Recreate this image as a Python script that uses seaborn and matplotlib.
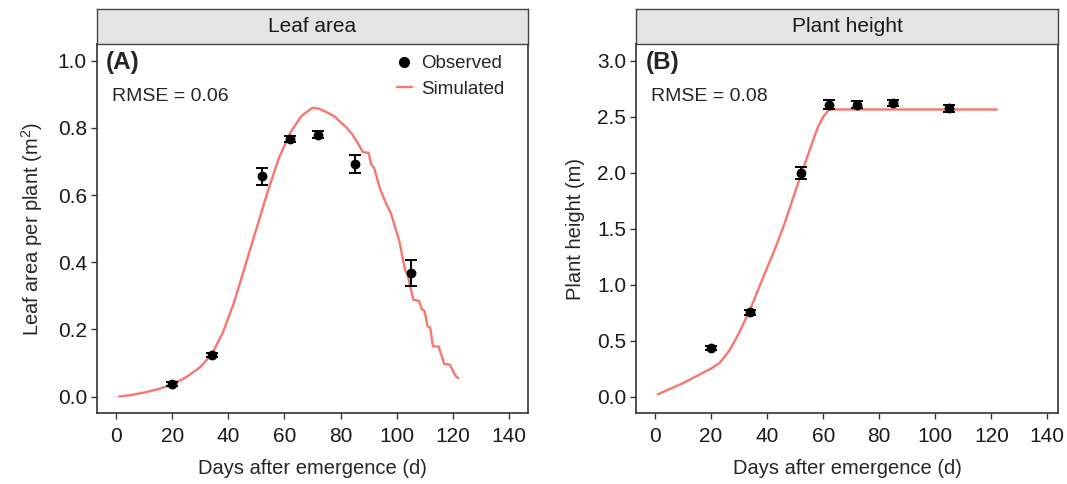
import numpy as np
import pandas as pd
import matplotlib
matplotlib.use("Agg")
import matplotlib.pyplot as plt
from matplotlib.lines import Line2D
import seaborn as sns

# ---------------- data ----------------
sim_leaf_days = [1, 5, 10, 15, 20, 25, 30, 34, 38, 42, 46, 50, 54, 58, 62, 66, 70, 72,
                 74, 76, 78, 80, 82, 84, 86, 88, 90, 91, 92, 94, 96, 98, 100, 101, 103,
                 104, 106, 108, 109, 110, 111, 112, 113, 115, 117, 119, 121, 122]
sim_leaf_vals = [0.000, 0.004, 0.012, 0.022, 0.036, 0.058, 0.088, 0.125, 0.19, 0.28, 0.39,
                 0.50, 0.61, 0.71, 0.785, 0.835, 0.860, 0.858, 0.851, 0.843, 0.833, 0.817,
                 0.802, 0.783, 0.757, 0.728, 0.726, 0.690, 0.681, 0.621, 0.58, 0.545, 0.49,
                 0.462, 0.378, 0.36, 0.288, 0.285, 0.26, 0.255, 0.21, 0.205, 0.149, 0.149,
                 0.097, 0.095, 0.062, 0.055]

sim_height_days = [1, 10, 20, 23, 25, 27, 30, 34, 38, 42, 46, 50, 54, 58, 60, 62, 63, 122]
sim_height_vals = [0.02, 0.12, 0.25, 0.30, 0.36, 0.43, 0.57, 0.78, 1.03, 1.27, 1.53, 1.83,
                   2.12, 2.40, 2.50, 2.56, 2.565, 2.565]

obs_days = [20, 34, 52, 62, 72, 85, 105]
obs_leaf = [0.037, 0.125, 0.656, 0.768, 0.780, 0.693, 0.368]
obs_leaf_err = [0.005, 0.006, 0.025, 0.009, 0.010, 0.026, 0.039]
obs_height = [0.433, 0.751, 1.998, 2.609, 2.609, 2.624, 2.576]
obs_height_err = [0.02, 0.02, 0.05, 0.04, 0.03, 0.03, 0.03]

x_ticks = [0, 20, 40, 60, 80, 100, 120, 140]
leaf_yticks = [0.0, 0.2, 0.4, 0.6, 0.8, 1.0]
height_yticks = [0.0, 0.5, 1.0, 1.5, 2.0, 2.5, 3.0]

# ---------------- style ----------------
sns.set_style("ticks")
plt.rcParams['font.family'] = ['Liberation Sans', 'DejaVu Sans']
plt.rcParams['mathtext.default'] = 'regular'

SIM_COLOR = "#F8766D"
W, H = 1067, 484
fig = plt.figure(figsize=(W / 100, H / 100), dpi=100)


def px_axes(x0, x1, y0, y1):
    return [x0 / W, 1 - y1 / H, (x1 - x0) / W, (y1 - y0) / H]


panels = [
    dict(x0=96.7, x1=528.3, title="Leaf area", tag="(A)", rmse="RMSE = 0.06",
         sd=sim_leaf_days, sv=sim_leaf_vals, ov=obs_leaf, oe=obs_leaf_err,
         yticks=leaf_yticks, ylim=(-0.05, 1.05), xlim=(-7, 147),
         ylabel="Leaf area per plant (m$^{2}$)", fmt="%.1f", legend=True),
    dict(x0=636.0, x1=1058.3, title="Plant height", tag="(B)", rmse="RMSE = 0.08",
         sd=sim_height_days, sv=sim_height_vals, ov=obs_height, oe=obs_height_err,
         yticks=height_yticks, ylim=(-0.15, 3.15), xlim=(-6.8, 143.9),
         ylabel="Plant height (m)", fmt="%.1f", legend=False),
]

for p in panels:
    ax = fig.add_axes(px_axes(p["x0"], p["x1"], 44, 413.3))
    sim_df = pd.DataFrame({"day": p["sd"], "val": p["sv"]})
    sns.lineplot(data=sim_df, x="day", y="val", ax=ax, color=SIM_COLOR, lw=1.7,
                 estimator=None, sort=False)
    ax.errorbar(obs_days, p["ov"], yerr=p["oe"], fmt="none", ecolor="black",
                elinewidth=1.4, capsize=4, capthick=1.4, zorder=3)
    sns.scatterplot(x=obs_days, y=p["ov"], ax=ax, color="black", s=50,
                    edgecolor="black", linewidth=0, zorder=4)
    ax.set_xlim(*p["xlim"])
    ax.set_ylim(*p["ylim"])
    ax.set_xticks(x_ticks)
    ax.set_yticks(p["yticks"])
    ax.set_yticklabels([p["fmt"] % v for v in p["yticks"]])
    ax.tick_params(axis="both", labelsize=15, length=4, width=1, color="#333333",
                   labelcolor="#1a1a1a", pad=3)
    ax.tick_params(axis="x", pad=6)
    for s in ax.spines.values():
        s.set_color("#333333")
        s.set_linewidth(1.2)
    ax.set_xlabel("Days after emergence (d)", fontsize=14.5, labelpad=9)
    ax.set_ylabel(p["ylabel"], fontsize=14.5, labelpad=9)
    ax.text(0.022, 0.951, p["tag"], transform=ax.transAxes, fontsize=17.5,
            fontweight="bold", va="center", ha="left")
    ax.text(0.036, 0.859, p["rmse"], transform=ax.transAxes, fontsize=14,
            va="center", ha="left")
    if p["legend"]:
        handles = [Line2D([], [], marker="o", color="black", ls="none", markersize=7),
                   Line2D([], [], color=SIM_COLOR, lw=1.7)]
        ax.legend(handles, ["Observed", "Simulated"], loc="upper left",
                  bbox_to_anchor=(0.665, 1.005), frameon=False, fontsize=13.5,
                  handlelength=0.8, handletextpad=0.5, labelspacing=0.45,
                  borderaxespad=0.3)
    # strip
    sax = fig.add_axes(px_axes(p["x0"], p["x1"], 9, 44))
    sax.set_facecolor("#e4e4e4")
    sax.set_xticks([])
    sax.set_yticks([])
    for s in sax.spines.values():
        s.set_color("#444444")
        s.set_linewidth(1.0)
    sax.text(0.5, 0.5, p["title"], transform=sax.transAxes, ha="center", va="center",
             fontsize=15, color="#1a1a1a")

fig.savefig("out.png", dpi=100)
